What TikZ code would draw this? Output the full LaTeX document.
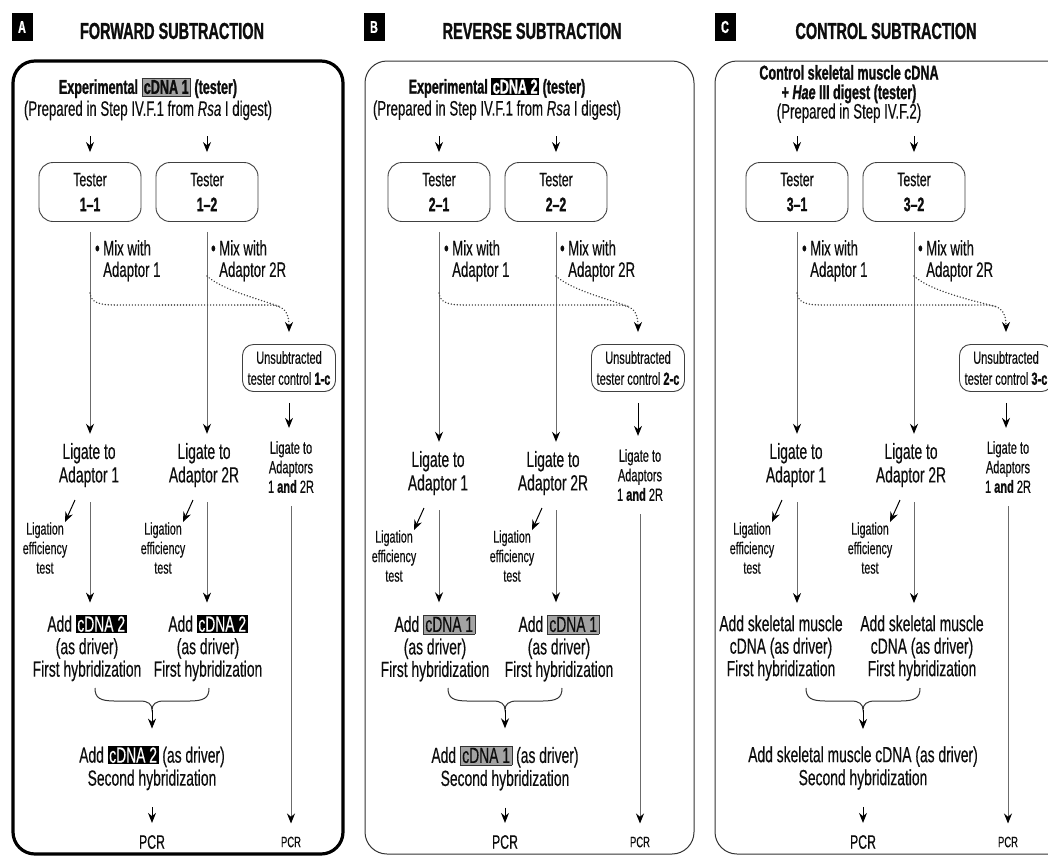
\documentclass[tikz,border=0pt]{standalone}
\usepackage{fontspec}
\setmainfont{Liberation Sans}[FakeStretch=0.63, UprightFeatures={FakeBold=0.35}, ItalicFeatures={FakeBold=0.35}, BoldFeatures={FakeBold=1.1}, BoldItalicFeatures={FakeBold=1.1}]
\usetikzlibrary{arrows.meta,calc}
\definecolor{ln}{gray}{0.42}
\definecolor{hl}{gray}{0.64}
\definecolor{ink}{gray}{0.05}
\newcommand\hlg[1]{{\setlength\fboxsep{1.5pt}\setlength\fboxrule{0.8pt}\fcolorbox{black!80}{hl}{#1}}}
\newcommand\hlb[1]{{\setlength\fboxsep{1.5pt}\colorbox{black}{\textcolor{white}{#1}}}}
\newcommand\fs[2]{\fontsize{#1}{#2}\selectfont}
\def\ligdy{0}
\tikzset{
  txt/.style={inner sep=0pt, align=center, text=ink},
  big/.style={txt, font=\fs{22}{23.5}},
  sml/.style={txt, font=\fs{17}{19.5}},
  tbox/.style={draw=black!75, line width=0.9pt, rounded corners=14pt, minimum width=102pt, minimum height=59pt, align=center, font=\fs{19.5}{25}, inner sep=0pt, text=ink},
  ubox/.style={draw=black!75, line width=0.9pt, rounded corners=11pt, minimum width=93pt, minimum height=47pt, align=center, font=\fs{17.5}{21}, inner sep=0pt, text=ink},
  tip/.style={-{Stealth[length=10pt,width=8pt,color=black]}},
  vline/.style={tip, draw=ln, line width=1pt},
  sarr/.style={tip, draw=black, line width=1pt},
  dots/.style={draw=black!75, line width=1.6pt, dash pattern=on 0.01pt off 3pt, line cap=round},
  lab/.style={fill=black, text=white, font=\fs{17}{17}\bfseries, minimum width=21pt, minimum height=28pt, inner sep=0pt},
  ttl/.style={txt, font=\fs{23}{24}\bfseries},
  hdr/.style={txt, font=\fs{20}{22}},
  frame/.style={draw=black!80, line width=1pt, rounded corners=22pt},
}
% #1 prefix #2 number #3 add1 text #4 add2 text #5 second text #6 add1 x #7 add2 x #8 unsub shift #9 brace centre
\newcommand\drawpanel[9]{%
  \node[tbox] (#1t1) at (90,192) {Tester\\\textbf{#2--1}};
  \node[tbox] (#1t2) at (207,192) {Tester\\\textbf{#2--2}};
  \coordinate (#1i1) at (90,136);
  \coordinate (#1i2) at (207,136);
  \draw[sarr, shorten >=10pt] (#1i1) -- (#1t1.north);
  \draw[sarr, shorten >=10pt] (#1i2) -- (#1t2.north);
  \node[txt, font=\fs{21}{21.5}, align=left, anchor=north west] (#1m1) at (103,240) {\llap{\textbullet\,}Mix with\\Adaptor 1};
  \node[txt, font=\fs{21}{21.5}, align=left, anchor=north west] (#1m2) at (219,240) {\llap{\textbullet\,}Mix with\\Adaptor 2R};
  \node[big] (#1l1) at (89,465+\ligdy) {Ligate to\\Adaptor 1};
  \node[big] (#1l2) at (204,465+\ligdy) {Ligate to\\Adaptor 2R};
  \draw[vline, shorten <=10pt, shorten >=9pt] (#1t1.south) -- (#1t1.south |- #1l1.north);
  \draw[vline, shorten <=10pt, shorten >=9pt] (#1t2.south) -- (#1t2.south |- #1l2.north);
  \node[ubox] (#1u) at (289+#8,368) {Unsubtracted\\tester control \textbf{#2-c}};
  \coordinate (#1d1) at (90,293);
  \coordinate (#1d2) at (207,276);
  \draw[dots, tip, shorten >=12pt] (#1d1) .. controls (91,303) and (100,305) .. (115,305) -- (268+#8,305) .. controls (284+#8,305) and (289+#8,312) .. (#1u.north);
  \draw[dots] (#1d2) .. controls (222,290) and (262,300) .. (281+#8,307);
  \node[txt, font=\fs{17.5}{19.5}] (#1a3) at (291+#8,467+\ligdy) {Ligate to\\Adaptors\\1 \textbf{and} 2R};
  \draw[sarr, shorten <=11pt, shorten >=13pt] (#1u.south) -- (#1u.south |- #1a3.north);
  \node[txt, font=\fs{15}{16}] (#1pr) at (291+#8,842) {PCR};
  \draw[vline, shorten <=13pt, shorten >=13pt] (#1a3.south) -- (#1a3.south |- #1pr.north);
  \node[sml] (#1e1) at (45,548+\ligdy) {Ligation\\efficiency\\test};
  \node[sml] (#1e2) at (163,548+\ligdy) {Ligation\\efficiency\\test};
  \coordinate (#1g1) at (75,500+\ligdy);
  \coordinate (#1g2) at (193,500+\ligdy);
  \draw[sarr] (#1g1) -- (#1e1.north -| 65,0);
  \draw[sarr] (#1g2) -- (#1e2.north -| 183,0);
  \node[big, font=\fs{22}{22.5}] (#1h1) at (#6,648) {#3};
  \node[big, font=\fs{22}{22.5}] (#1h2) at (#7,648) {#4};
  \draw[vline, shorten <=15pt, shorten >=12pt] (#1t1.south |- #1l1.south) -- (#1t1.south |- #1h1.north);
  \draw[vline, shorten <=15pt, shorten >=12pt] (#1t2.south |- #1l2.south) -- (#1t2.south |- #1h2.north);
  \draw[draw=black!80, line width=1pt] (#9-57,688) .. controls (#9-57,698) and (#9-52,701) .. (#9-37,701) -- (#9-12,701) .. controls (#9-4,701) and (#9,704) .. (#9,710)
     .. controls (#9,704) and (#9+4,701) .. (#9+12,701) -- (#9+37,701) .. controls (#9+52,701) and (#9+57,698) .. (#9+57,688);
  \coordinate (#1bc) at (#9,710);
  \node[big, font=\fs{22}{23}] (#1s) at (#9,768) {#5};
  \draw[sarr, shorten >=17pt] (#1bc) -- (#1s.north);
  \node[txt, font=\fs{19.5}{20}] (#1p) at (#9,842) {PCR};
  \draw[sarr, shorten <=17pt, shorten >=12pt] (#1s.south) -- (#1p.north);
}
\begin{document}
\begin{tikzpicture}[x=1pt, y=-1pt]
\useasboundingbox (0,0) rectangle (1048,857);
\fill[white] (0,0) rectangle (1048,857);
\clip (0,0) rectangle (1048,857);
% frames
\draw[frame, line width=3.2pt, draw=black] (13,61) rectangle (343,854);
\draw[frame] (365,61) rectangle (694,854);
\draw[frame] (715,61) rectangle (1075,854);
% titles
\node[lab] (alab) at (22,27) {A};
\node[ttl] (atit) at (172,31) {FORWARD SUBTRACTION};
\node[lab] (blab) at (374,27) {B};
\node[ttl] (btit) at (532,31) {REVERSE SUBTRACTION};
\node[lab] (clab) at (725,27) {C};
\node[ttl] (ctit) at (886,31) {CONTROL SUBTRACTION};
% panel A
\node[hdr] (ahd) at (148,99) {\textbf{Experimental \hlg{cDNA 1} (tester)}\\{\fs{21}{22}(Prepared in Step IV.F.1 from \textit{Rsa} I digest)}};
\drawpanel{a}{1}{Add \hlb{cDNA 2}\\(as driver)\\First hybridization}{Add \hlb{cDNA 2}\\(as driver)\\First hybridization}{Add \hlb{cDNA 2} (as driver)\\Second hybridization}{87}{208}{0}{152}
% panel B
\begin{scope}[xshift=349pt]
\def\ligdy{8}
\node[hdr] (bhd) at (148,99) {\textbf{Experimental \hlb{cDNA 2} (tester)}\\{\fs{21}{22}(Prepared in Step IV.F.1 from \textit{Rsa} I digest)}};
\drawpanel{b}{2}{Add \hlg{cDNA 1}\\(as driver)\\First hybridization}{Add \hlg{cDNA 1}\\(as driver)\\First hybridization}{Add \hlg{cDNA 1} (as driver)\\Second hybridization}{86}{210}{0}{156}
\end{scope}
% panel C
\begin{scope}[xshift=707pt]
\def\ligdy{0}
\node[hdr, font=\fs{20}{19.5}] (chd) at (142,94) {\textbf{Control skeletal muscle cDNA}\\\textbf{+ \textit{Hae} III digest (tester)}\\{\fs{21}{19.5}(Prepared in Step IV.F.2)}};
\drawpanel{c}{3}{Add skeletal muscle\\cDNA (as driver)\\First hybridization}{Add skeletal muscle\\cDNA (as driver)\\First hybridization}{Add skeletal muscle cDNA (as driver)\\Second hybridization}{74}{215}{10}{156}
\end{scope}
\end{tikzpicture}
\end{document}
